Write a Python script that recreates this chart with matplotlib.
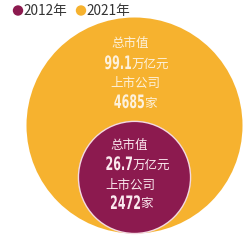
import matplotlib
matplotlib.use("Agg")
import matplotlib.pyplot as plt
from matplotlib.patches import Circle, PathPatch
from matplotlib.textpath import TextPath
from matplotlib.font_manager import FontProperties
from matplotlib.transforms import Affine2D
import numpy as np

years = ["2012年", "2021年"]
market_cap = [26.7, 99.1]          # 万亿元
companies = [2472, 4685]           # 家
colors = ["#8c1a4f", "#f6b22f"]

plt.rcParams['font.family'] = ['Noto Sans CJK SC', 'DejaVu Sans']

fig = plt.figure(figsize=(2.49, 2.40), dpi=100)
ax = fig.add_axes([0, 0, 1, 1])
ax.set_xlim(0, 249)
ax.set_ylim(240, 0)
ax.set_aspect('equal')
ax.axis('off')

R = 108.0
cx = 134.5
bottom = 233.5
radii = [R * np.sqrt(v / max(market_cap)) for v in market_cap]

for i in [1, 0]:
    r = radii[i]
    c = Circle((cx, bottom - r), r, facecolor=colors[i],
               edgecolor="#f3d9e2" if i == 0 else "none",
               linewidth=1.0 if i == 0 else 0)
    ax.add_patch(c)

numprop = FontProperties(family='DejaVu Sans', weight='bold')
cjk = dict(family=['Noto Sans CJK SC', 'DejaVu Sans'])


def cond_num(x_right, y_base, s, color, size=18.5, sx=0.6):
    tp = TextPath((0, 0), s, size=size, prop=numprop)
    ext = tp.get_extents()
    w = ext.x1 * sx
    tr = Affine2D().scale(sx, -1).translate(x_right - w, y_base)
    ax.add_patch(PathPatch(tr.transform_path(tp), facecolor=color,
                           edgecolor='none'))


# legend
ax.add_patch(Circle((18, 10.5), 5.2, facecolor=colors[0], edgecolor='none'))
ax.text(23.5, 10.5, years[0], fontsize=9.8, color="#333333", va='center', ha='left', **cjk)
ax.add_patch(Circle((81, 10.5), 5.2, facecolor=colors[1], edgecolor='none'))
ax.text(86.5, 10.5, years[1], fontsize=9.8, color="#333333", va='center', ha='left', **cjk)

# big circle labels
tc_big = "#fdf1dc"
fs = 9
ax.text(130, 43, "总市值", fontsize=fs, color=tc_big, ha='center', va='center', **cjk)
cond_num(131, 69, f"{market_cap[1]}", tc_big)
ax.text(131.5, 64, "万亿元", fontsize=fs, color=tc_big, ha='left', va='center', **cjk)
ax.text(135, 83, "上市公司", fontsize=fs, color=tc_big, ha='center', va='center', **cjk)
cond_num(144, 108, f"{companies[1]}", tc_big)
ax.text(144.5, 103, "家", fontsize=fs, color=tc_big, ha='left', va='center', **cjk)

# small circle labels
tc_small = "#fbe9ef"
ax.text(129, 145, "总市值", fontsize=fs, color=tc_small, ha='center', va='center', **cjk)
cond_num(132, 170, f"{market_cap[0]}", tc_small)
ax.text(132.5, 165, "万亿元", fontsize=fs, color=tc_small, ha='left', va='center', **cjk)
ax.text(130, 185, "上市公司", fontsize=fs, color=tc_small, ha='center', va='center', **cjk)
cond_num(140, 209, f"{companies[0]}", tc_small)
ax.text(140.5, 204, "家", fontsize=fs, color=tc_small, ha='left', va='center', **cjk)

fig.savefig("out.png", dpi=100, facecolor='white')
